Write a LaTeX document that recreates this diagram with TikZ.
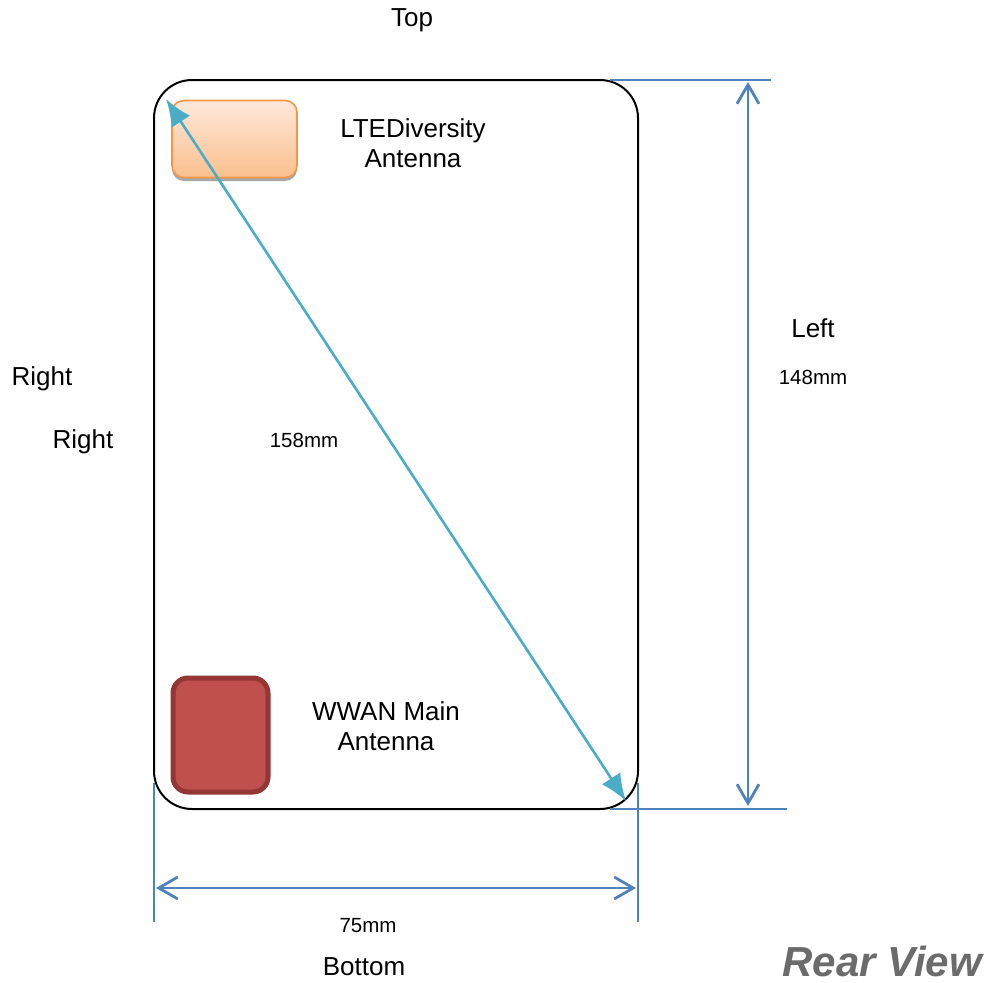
\documentclass[tikz,border=0pt]{standalone}
\usepackage{fontspec}
\setmainfont{Liberation Sans}
\usetikzlibrary{arrows.meta}
\definecolor{dimblue}{HTML}{4F81BD}
\definecolor{diagblue}{HTML}{4BACC6}
\definecolor{orangeedge}{HTML}{F79646}
\definecolor{orangetop}{HTML}{FEE8DA}
\definecolor{orangebot}{HTML}{FBC08E}
\definecolor{redfill}{HTML}{C0504D}
\definecolor{rededge}{HTML}{943634}
\tikzset{
  big/.style={font=\fontsize{26}{30}\selectfont, align=center, inner sep=0pt},
  small/.style={font=\fontsize{20.5}{24}\selectfont, inner sep=0pt},
  extline/.style={draw=dimblue, line width=1.8pt},
  dimarrow/.style={draw=dimblue, line width=2.8pt, {Straight Barb[length=19pt,width=22pt,line width=2.8pt]}-{Straight Barb[length=19pt,width=22pt,line width=2.8pt]}},
  diagarrow/.style={draw=diagblue, line width=2.6pt, {Latex[length=27pt,width=22pt]}-{Latex[length=27pt,width=22pt]}},
}
\begin{document}
\begin{tikzpicture}[x=1pt,y=-1pt]
\useasboundingbox (0,0) rectangle (989,983);
% phone outline
\node[draw=black, line width=2pt, rounded corners=38pt, minimum width=484pt, minimum height=729pt, inner sep=0pt] (phone) at (396,444.5) {};
% LTE diversity antenna box (shadow + gradient)
\fill[gray!70, rounded corners=12pt] (172,103) rectangle (297,181);
\node[draw=orangeedge, line width=1.6pt, rounded corners=12pt, top color=orangetop, bottom color=orangebot, minimum width=125pt, minimum height=77pt, inner sep=0pt] (lte) at (234.5,139) {};
% WWAN main antenna box
\node[draw=rededge, fill=redfill, line width=5pt, rounded corners=15pt, minimum width=95pt, minimum height=114pt, inner sep=0pt] (wwan) at (220.5,735) {};
% labels
\node[big] (top) at (412,20) {Top};
\node[big] (ltelbl) at (413,143) {LTEDiversity\\Antenna};
\node[big] (wwanlbl) at (386,726) {WWAN Main\\Antenna};
\node[big] (left) at (813,328) {Left};
\node[small] (d148) at (813,377) {148mm};
\node[big] (right1) at (42,379) {Right};
\node[big] (right2) at (83,442) {Right};
\node[small] (d158) at (304,440) {158mm};
\node[small] (d75) at (368,926) {75mm};
\node[big] (bottom) at (364,967) {Bottom};
\node[font=\fontsize{42}{46}\selectfont\bfseries\itshape, text=black!58, anchor=base east, inner sep=0pt] (rear) at (982,976) {Rear View};
% dimension extension lines
\coordinate (e1a) at (610,80); \coordinate (e1b) at (771,80);
\coordinate (e2a) at (610,809); \coordinate (e2b) at (787,809);
\coordinate (e3a) at (154,783); \coordinate (e3b) at (154,922);
\coordinate (e4a) at (638,783); \coordinate (e4b) at (638,922);
\draw[extline] (e1a) -- (e1b);
\draw[extline] (e2a) -- (e2b);
\draw[extline] (e3a) -- (e3b);
\draw[extline] (e4a) -- (e4b);
% dimension arrows
\coordinate (v1) at (748,82); \coordinate (v2) at (748,806);
\coordinate (h1) at (156,888); \coordinate (h2) at (636,888);
\draw[dimarrow] (v1) -- (v2);
\draw[dimarrow] (h1) -- (h2);
% diagonal
\coordinate (g1) at (166,99); \coordinate (g2) at (626,801);
\draw[diagarrow] (g1) -- (g2);
\end{tikzpicture}
\end{document}
